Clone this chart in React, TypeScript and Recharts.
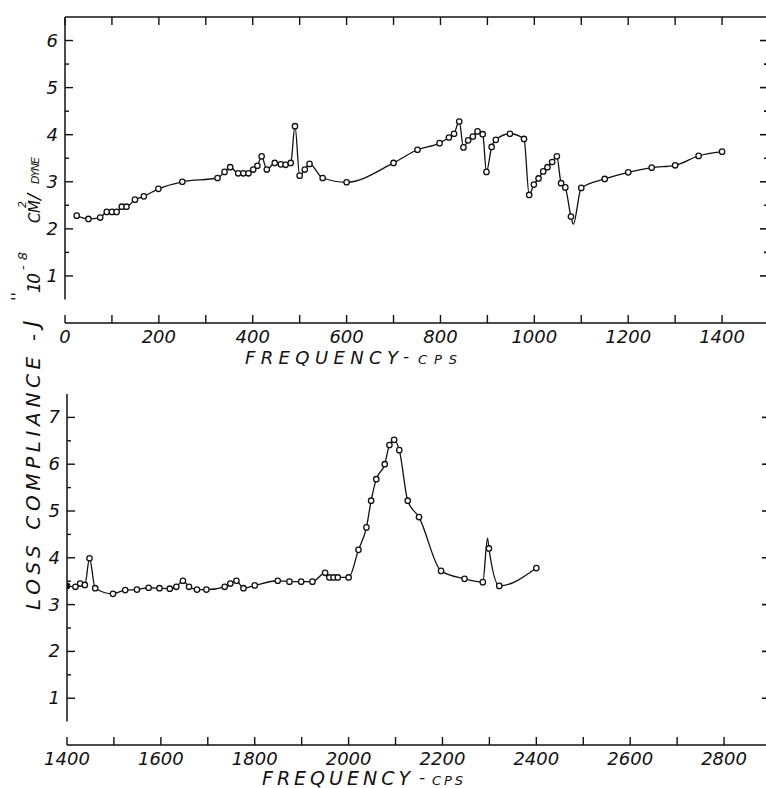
import { LineChart, Line, XAxis, YAxis, ReferenceLine } from "recharts";

const INK = "#111";
const FONT = "'DejaVu Sans', sans-serif";

// upper panel: 0 - 1400 cps
const topFreq = [
  25, 50, 75, 89, 100, 110, 121, 131, 149, 168, 199, 250, 325, 340, 352, 369, 380, 391, 401, 410,
  419, 430, 447, 460, 470, 481, 490, 500, 511, 521, 549, 600, 700, 751, 798, 818, 829, 840, 849,
  859, 869, 879, 890, 898, 909, 918, 948, 978, 989, 999, 1009, 1019, 1028, 1038, 1048, 1057, 1066,
  1078, 1083, 1100, 1150, 1200, 1250, 1300, 1350, 1400,
];
const topJ = [
  2.28, 2.21, 2.24, 2.36, 2.36, 2.36, 2.47, 2.47, 2.62, 2.69, 2.85, 3.0, 3.08, 3.21, 3.31, 3.18,
  3.18, 3.18, 3.26, 3.34, 3.54, 3.26, 3.4, 3.37, 3.36, 3.4, 4.18, 3.13, 3.26, 3.38, 3.08, 2.99, 3.4,
  3.68, 3.82, 3.94, 4.02, 4.28, 3.73, 3.88, 3.96, 4.07, 4.01, 3.21, 3.74, 3.89, 4.02, 3.91, 2.72,
  2.94, 3.07, 3.22, 3.31, 3.42, 3.54, 2.97, 2.88, 2.26, 2.1, 2.87, 3.06, 3.2, 3.3, 3.35, 3.55, 3.64,
];
const topNoMark = [1083];

// lower panel: 1400 - 2400 cps
const lowFreq = [
  1400, 1418, 1428, 1438, 1448, 1460, 1498, 1524, 1549, 1574, 1597, 1619, 1633, 1647, 1660, 1677,
  1697, 1736, 1748, 1761, 1776, 1800, 1849, 1874, 1899, 1923, 1950, 1959, 1968, 1977, 2000, 2021,
  2038, 2048, 2059, 2077, 2087, 2097, 2108, 2126, 2150, 2197, 2247, 2286, 2296, 2299, 2321, 2400,
];
const lowJ = [
  3.4, 3.38, 3.45, 3.42, 3.99, 3.35, 3.23, 3.31, 3.32, 3.36, 3.35, 3.34, 3.38, 3.51, 3.38, 3.32,
  3.32, 3.38, 3.45, 3.51, 3.35, 3.41, 3.51, 3.49, 3.49, 3.49, 3.68, 3.58, 3.58, 3.58, 3.58, 4.17,
  4.65, 5.22, 5.68, 6.0, 6.41, 6.52, 6.3, 5.22, 4.87, 3.72, 3.55, 3.48, 4.42, 4.2, 3.4, 3.78,
];
const lowNoMark = [2296];
const lowFilled = [1400];

const topXTicks = [0, 100, 200, 300, 400, 500, 600, 700, 800, 900, 1000, 1100, 1200, 1300, 1400];
const lowXTicks = [1400, 1500, 1600, 1700, 1800, 1900, 2000, 2100, 2200, 2300, 2400, 2500, 2600, 2700, 2800];
const topYTicks = [1, 1.5, 2, 2.5, 3, 3.5, 4, 4.5, 5, 5.5, 6];
const lowYTicks = [1, 1.5, 2, 2.5, 3, 3.5, 4, 4.5, 5, 5.5, 6, 6.5, 7];

const topData = topFreq.map((f, i) => ({ f, j: topJ[i] }));
const lowData = lowFreq.map((f, i) => ({ f, j: lowJ[i] }));

const labelStyle = { fontFamily: FONT, fontStyle: "italic" as const, fontSize: 18, fill: INK };

// tick renderers draw their own (inward) tick lines
const BottomTick = (p: any) => {
  const v = p.payload.value;
  return (
    <g>
      <line x1={p.x} y1={p.y} x2={p.x} y2={p.y - 8} stroke={INK} strokeWidth={1.4} />
      {v % 200 === 0 && (
        <text x={p.x} y={p.y + 20} textAnchor="middle" {...labelStyle}>
          {v}
        </text>
      )}
    </g>
  );
};

const TopTick = (p: any) => (
  <line x1={p.x} y1={p.y} x2={p.x} y2={p.y + 8} stroke={INK} strokeWidth={1.4} />
);

const LeftTick = (p: any) => {
  const v = p.payload.value;
  const major = Number.isInteger(v);
  return (
    <g>
      <line x1={p.x} y1={p.y} x2={p.x + (major ? 8 : 4)} y2={p.y} stroke={INK} strokeWidth={1.4} />
      {major && (
        <text x={p.x - 7} y={p.y + 6} textAnchor="end" {...labelStyle}>
          {v}
        </text>
      )}
    </g>
  );
};

const RightTick = (p: any) => {
  const major = Number.isInteger(p.payload.value);
  return <line x1={p.x} y1={p.y} x2={p.x - (major ? 9 : 5)} y2={p.y} stroke={INK} strokeWidth={1.6} />;
};

function makeDot(noMark: number[], filled: number[]) {
  return (p: any) => {
    const key = `d${p.index}`;
    if (noMark.includes(p.payload.f)) return <g key={key} />;
    return (
      <circle
        key={key}
        cx={p.cx}
        cy={p.cy}
        r={2.7}
        fill={filled.includes(p.payload.f) ? INK : "#fff"}
        stroke={INK}
        strokeWidth={1.3}
      />
    );
  };
}

function TopPanel() {
  return (
    <LineChart width={800} height={360} data={topData} margin={{ top: 16, right: 30, bottom: 7, left: 15 }}>
      <XAxis xAxisId="b" dataKey="f" type="number" domain={[0, 1500]} allowDataOverflow ticks={topXTicks}
        interval={0} tickSize={0} tickMargin={0} tick={BottomTick} height={30} stroke={INK} strokeWidth={1.5} />
      <XAxis xAxisId="t" orientation="top" dataKey="f" type="number" domain={[0, 1500]} allowDataOverflow
        ticks={topXTicks} interval={0} tickSize={0} tickMargin={0} tick={TopTick} height={1} stroke={INK} strokeWidth={1.5} />
      <YAxis yAxisId="l" type="number" domain={[0, 6.5]} allowDataOverflow ticks={topYTicks} interval={0}
        tickSize={0} tickMargin={0} tick={LeftTick} width={50} axisLine={false} />
      <YAxis yAxisId="r" orientation="right" type="number" domain={[0, 6.5]} allowDataOverflow ticks={topYTicks}
        interval={0} tickSize={0} tickMargin={0} tick={RightTick} width={1} axisLine={false} />
      <ReferenceLine xAxisId="b" yAxisId="l" segment={[{ x: 0, y: 0.5 }, { x: 0, y: 6.5 }]} stroke={INK} strokeWidth={1.5} />
      <Line xAxisId="b" yAxisId="l" type="monotone" dataKey="j" stroke={INK} strokeWidth={1.3}
        dot={makeDot(topNoMark, [])} activeDot={false} isAnimationActive={false} />
    </LineChart>
  );
}

function LowerPanel() {
  return (
    <LineChart width={800} height={420} data={lowData} margin={{ top: 34, right: 28, bottom: 5, left: 17 }}>
      <XAxis xAxisId="b" dataKey="f" type="number" domain={[1400, 2900]} allowDataOverflow ticks={lowXTicks}
        interval={0} tickSize={0} tickMargin={0} tick={BottomTick} height={30} stroke={INK} strokeWidth={1.5} />
      <YAxis yAxisId="l" type="number" domain={[0, 7.5]} allowDataOverflow ticks={lowYTicks} interval={0}
        tickSize={0} tickMargin={0} tick={LeftTick} width={50} axisLine={false} />
      <YAxis yAxisId="r" orientation="right" type="number" domain={[0, 7.5]} allowDataOverflow ticks={lowYTicks}
        interval={0} tickSize={0} tickMargin={0} tick={RightTick} width={1} axisLine={false} />
      <ReferenceLine xAxisId="b" yAxisId="l" segment={[{ x: 1400, y: 0.5 }, { x: 1400, y: 7.5 }]} stroke={INK} strokeWidth={1.5} />
      <Line xAxisId="b" yAxisId="l" type="monotone" dataKey="j" stroke={INK} strokeWidth={1.3}
        dot={makeDot(lowNoMark, lowFilled)} activeDot={false} isAnimationActive={false} />
    </LineChart>
  );
}

const t = { fontFamily: FONT, fontStyle: "italic" as const, fill: INK };

function Titles() {
  return (
    <svg width={766} height={788} style={{ position: "absolute", left: 0, top: 0, pointerEvents: "none" }}>
      {/* x titles */}
      <text x={245} y={364} fontSize={18} textLength={153} lengthAdjust="spacing" {...t}>FREQUENCY</text>
      <text x={403} y={362} fontSize={17} {...t}>-</text>
      <text x={418} y={364} fontSize={13} textLength={39} lengthAdjust="spacing" {...t}>CPS</text>
      <text x={262} y={785} fontSize={19} textLength={148} lengthAdjust="spacing" {...t}>FREQUENCY</text>
      <text x={419} y={783} fontSize={17} {...t}>-</text>
      <text x={432} y={785} fontSize={13} textLength={31} lengthAdjust="spacing" {...t}>CPS</text>
      {/* y title, rotated */}
      <g transform="rotate(-90)">
        <text x={-610} y={40} fontSize={20} textLength={276} lengthAdjust="spacing" {...t}>LOSS COMPLIANCE -</text>
        <text x={-327} y={39} fontSize={22} {...t}>J</text>
        <text x={-301} y={23} fontSize={16} {...t}>''</text>
        <text x={-293} y={40} fontSize={17} textLength={20} lengthAdjust="spacing" {...t}>10</text>
        <text x={-270} y={27} fontSize={13} textLength={18} lengthAdjust="spacing" {...t}>-8</text>
        <text x={-223} y={40} fontSize={15} textLength={23} lengthAdjust="spacing" {...t}>CM</text>
        <text x={-208} y={26} fontSize={11} {...t}>2</text>
        <text x={-200} y={40} fontSize={18} {...t}>/</text>
        <text x={-184} y={39} fontSize={11} textLength={27} lengthAdjust="spacing" {...t}>DYNE</text>
      </g>
    </svg>
  );
}

export default function App() {
  return (
    <div style={{ position: "fixed", left: 0, top: 0, width: 766, height: 788, overflow: "hidden", background: "#fff" }}>
      <div style={{ position: "absolute", left: 0, top: 0 }}>
        <TopPanel />
      </div>
      <div style={{ position: "absolute", left: 0, top: 360 }}>
        <LowerPanel />
      </div>
      <Titles />
    </div>
  );
}
